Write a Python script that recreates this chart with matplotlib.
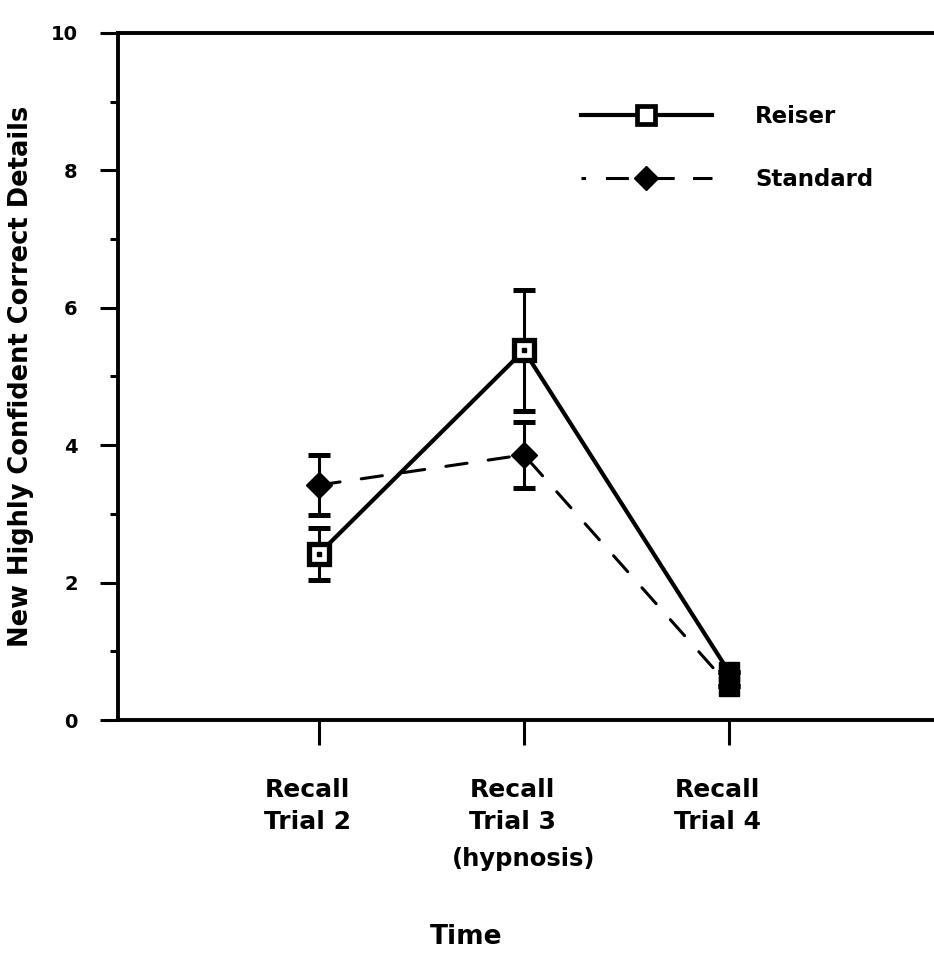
import matplotlib.pyplot as plt
import matplotlib.transforms as mtransforms
from matplotlib.lines import Line2D
from matplotlib.ticker import MultipleLocator

# values
trials = ["Recall\nTrial 2", "Recall\nTrial 3", "Recall\nTrial 4"]
trial_pos = [1, 2, 3]
reiser_mean = [2.42, 5.38, 0.70]
reiser_err = [0.38, 0.88, 0.0]
standard_mean = [3.42, 3.86, 0.50]
standard_err = [0.44, 0.48, 0.0]

plt.rcParams['font.family'] = ['DejaVu Sans']
plt.rcParams['font.weight'] = 'bold'

fig = plt.figure(figsize=(9.34, 9.58), dpi=100)
ax = fig.add_axes([0.1263, 0.2484, 0.8737, 0.7172])

lw = 3.0
dash = (0, (7, 7))

# Standard (dashed, filled diamonds)
ax.errorbar(trial_pos, standard_mean, yerr=standard_err, color='black',
            linestyle='none', elinewidth=2.2, capsize=8, capthick=3.6, zorder=3)
ax.plot(trial_pos, standard_mean, color='black', lw=2.2, linestyle=dash,
        dash_capstyle='round', marker='D', markersize=13, markevery=[0, 1],
        markerfacecolor='black', zorder=4)

# Reiser (solid, open squares)
ax.errorbar(trial_pos, reiser_mean, yerr=reiser_err, color='black',
            linestyle='none', elinewidth=2.2, capsize=8, capthick=3.6, zorder=3)
ax.plot(trial_pos, reiser_mean, color='black', lw=lw, marker='s', markersize=15,
        markerfacecolor='white', markeredgewidth=3.8, markevery=[0, 1], zorder=5)
ax.plot(trial_pos[:2], reiser_mean[:2], linestyle='none', marker='s', markersize=2.5,
        color='black', zorder=6)
# last trial: both series overlap into one filled block
ax.plot(trial_pos[2:], reiser_mean[2:], linestyle='none', marker='s', markersize=14.5,
        color='black', zorder=6)
ax.plot(trial_pos[2:], standard_mean[2:], linestyle='none', marker='s', markersize=14.5,
        color='black', zorder=6)

ax.set_xlim(0.02, 4.0)
ax.set_ylim(0, 10)
ax.set_xticks(trial_pos)
ax.set_xticklabels([])

# category labels sit a little left of their ticks, lines left-aligned
shift = mtransforms.ScaledTranslation(-0.11, 0, fig.dpi_scale_trans)
for x, lab in zip(trial_pos, trials):
    ax.text(x, -0.084, lab, transform=ax.get_xaxis_transform() + shift,
            ha='center', va='top', fontsize=18, fontweight='bold',
            multialignment='left', linespacing=1.45)
ax.text(2, -0.185, "(hypnosis)", transform=ax.get_xaxis_transform(),
        ha='center', va='top', fontsize=17.5, fontweight='bold')

ax.yaxis.set_major_locator(MultipleLocator(2))
ax.yaxis.set_minor_locator(MultipleLocator(1))
ax.tick_params(axis='y', which='major', direction='out', length=13, width=2.2,
               labelsize=14, pad=16)
ax.tick_params(axis='y', which='minor', direction='out', length=6, width=2.2)
ax.tick_params(axis='x', direction='out', length=18, width=2.2)

for side in ['left', 'bottom', 'top']:
    ax.spines[side].set_linewidth(2.8)
ax.spines['right'].set_visible(False)

ax.set_ylabel("New Highly Confident Correct Details", fontsize=18.5,
              fontweight='bold', labelpad=12)
fig.text(466 / 934, 1 - 937 / 958, "Time", ha='center', va='center',
         fontsize=19, fontweight='bold')

handles = [
    Line2D([], [], color='black', lw=lw, marker='s', markersize=13,
           markerfacecolor='white', markeredgewidth=3.4),
    Line2D([], [], color='black', lw=2.2, dash_capstyle='butt',
           linestyle=(0, (1.5, 6.5, 7.5, 4, 11, 6, 8, 30)),
           marker='D', markersize=12, markerfacecolor='black'),
]
ax.legend(handles, ["Reiser", "Standard"], loc='upper left',
          bbox_to_anchor=(0.542, 0.925), frameon=False, fontsize=16.5,
          handlelength=5.7, handletextpad=1.9, labelspacing=1.75)

fig.savefig("out.png", dpi=100)
